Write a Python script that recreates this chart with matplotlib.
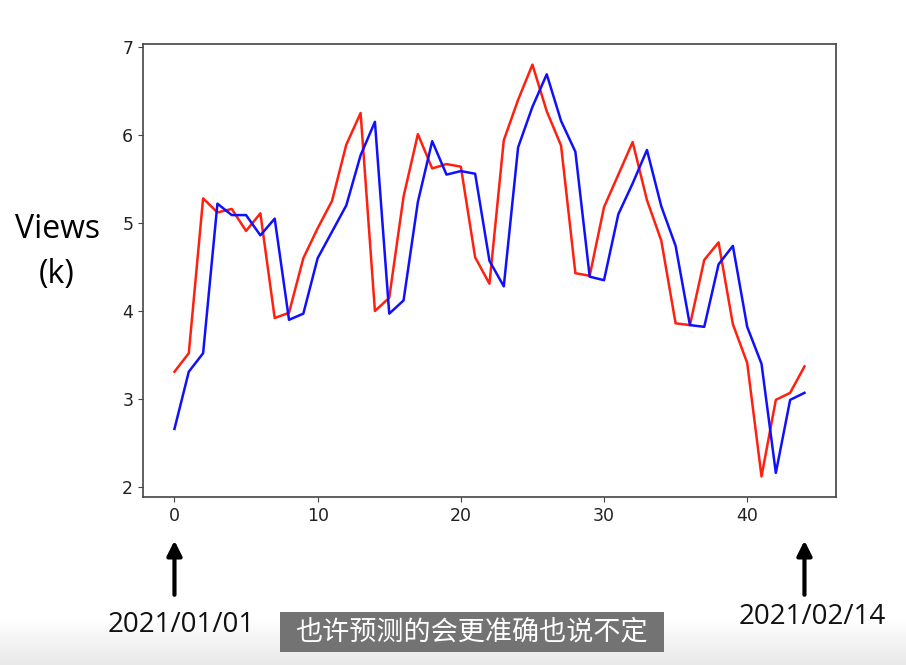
import numpy as np
import matplotlib
matplotlib.use("Agg")
import matplotlib.pyplot as plt
from matplotlib.patches import Rectangle

# daily views (thousands), 2021/01/01 .. 2021/02/14
actual = [3.31, 3.52, 5.28, 5.12, 5.16, 4.91, 5.11, 3.92, 3.98, 4.60,
          4.94, 5.25, 5.89, 6.25, 4.00, 4.15, 5.30, 6.01, 5.62, 5.67,
          5.64, 4.61, 4.31, 5.94, 6.40, 6.80, 6.27, 5.88, 4.43, 4.40,
          5.18, 5.55, 5.92, 5.26, 4.80, 3.86, 3.84, 4.58, 4.78, 3.85,
          3.41, 2.12, 2.99, 3.07, 3.37]
predicted = [2.66, 3.31, 3.52, 5.22, 5.09, 5.09, 4.86, 5.05, 3.90, 3.97,
             4.60, 4.90, 5.20, 5.77, 6.15, 3.97, 4.12, 5.24, 5.93, 5.55,
             5.59, 5.56, 4.57, 4.28, 5.86, 6.32, 6.69, 6.16, 5.81, 4.39,
             4.35, 5.10, 5.45, 5.83, 5.19, 4.74, 3.84, 3.82, 4.53, 4.74,
             3.82, 3.40, 2.16, 2.99, 3.07]
days = list(range(len(actual)))
start_label = "2021/01/01"
end_label = "2021/02/14"
subtitle = "也许预测的会更准确也说不定"

fig = plt.figure(figsize=(9.06, 6.65), dpi=100)
fig.patch.set_facecolor("white")

# faint grey band at the bottom of the screenshot
bg = fig.add_axes([0, 0, 1, 0.07], zorder=-5)
grad = np.linspace(0, 1, 50).reshape(-1, 1)
bg.imshow(grad, aspect="auto", cmap=matplotlib.colors.LinearSegmentedColormap.from_list(
    "g", ["#e9e9e9", "#ffffff"]), extent=[0, 1, 0, 1], origin="lower")
bg.axis("off")

ax = fig.add_axes([0.1578, 0.2526, 0.7649, 0.6812])
ax.plot(days, actual, color="#ff2010", lw=1.8)
ax.plot(days, predicted, color="#1010ff", lw=1.8)

ax.set_xticks([0, 10, 20, 30, 40])
ax.set_yticks([2, 3, 4, 5, 6, 7])
for s in ax.spines.values():
    s.set_color("#444444")
    s.set_linewidth(1.2)
ax.tick_params(colors="#444444", labelsize=12.5, labelcolor="#222222")

fig.text(0.063, 0.655, "Views", fontsize=23, family="Open Sans", ha="center", va="center")
fig.text(0.063, 0.587, "(k)", fontsize=23, family="Open Sans", ha="center", va="center")

trans = ax.get_xaxis_transform()
for x in (days[0], days[-1]):
    ax.annotate("", xy=(x, -0.09), xytext=(x, -0.222), xycoords=trans, textcoords=trans,
                arrowprops=dict(arrowstyle="-|>", lw=3, color="black", mutation_scale=22),
                annotation_clip=False)

fig.text(181 / 906, 1 - 625 / 665, start_label, fontsize=20, family="Open Sans",
         ha="center", va="center", color="#111111")
fig.text(812 / 906, 1 - 617 / 665, end_label, fontsize=20, family="Open Sans",
         ha="center", va="center", color="#111111")

fig.patches.append(Rectangle((280 / 906, 1 - 652 / 665), 384 / 906, 40 / 665,
                             transform=fig.transFigure, facecolor="#737373",
                             edgecolor="none", zorder=3))
fig.text(472 / 906, 1 - 632 / 665, subtitle, fontsize=19.5, color="white",
         family=["Noto Sans CJK SC", "DejaVu Sans"], ha="center", va="center", zorder=4)

fig.savefig("out.png", dpi=100)
